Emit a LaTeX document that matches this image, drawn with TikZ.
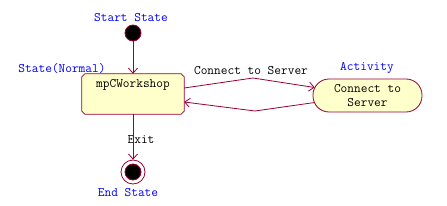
\documentclass[tikz,border=0pt]{standalone}
\usetikzlibrary{arrows.meta}
\definecolor{umlred}{RGB}{153,0,51}
\definecolor{umlfill}{RGB}{255,255,204}
\definecolor{umlblue}{RGB}{0,0,255}
\tikzset{
  every node/.style={font=\ttfamily\fontsize{13}{14}\selectfont, inner sep=0pt},
  conn/.style={draw=umlred, line width=0.8pt, -{Straight Barb[length=5pt,width=9pt,line width=0.8pt]}},
  stereo/.style={text=umlblue},
  statebox/.style={rectangle, minimum width=102pt, minimum height=40pt},
  octo/.style={draw=umlred, fill=umlfill, line width=0.8pt},
  actbox/.style={rectangle, rounded corners=16pt, draw=umlred, fill=umlfill, line width=0.8pt, minimum width=109pt, minimum height=33pt, align=center},
  dot/.style={circle, fill=black, draw=umlred, line width=0.8pt, minimum size=16pt},
  ring/.style={circle, draw=umlred, line width=0.8pt, minimum size=24pt}
}
\begin{document}
\begin{tikzpicture}[x=1pt,y=-1pt]
\useasboundingbox (0,0) rectangle (447,206);
\node[stereo] (startlbl) at (131,18) {Start State};
\node[dot] (start) at (133,33) {};
\node[statebox] (box) at (133,94) {};
\path[octo] ([xshift=3pt]box.north west) -- ([xshift=-3pt]box.north east) -- ([yshift=-3pt]box.north east)
  -- ([yshift=3pt]box.south east) -- ([xshift=-3pt]box.south east) -- ([xshift=3pt]box.south west)
  -- ([yshift=3pt]box.south west) -- ([yshift=-3pt]box.north west) -- cycle;
\node[anchor=north] (boxtxt) at (133,79) {mpCWorkshop};
\node[stereo] (statelbl) at (62,69) {State(Normal)};
\node[actbox] (act) at (367.5,95.5) {Connect to\\[0pt]Server};
\node[stereo] (actlbl) at (367,68) {Activity};
\node[ring] (endouter) at (133,172) {};
\node[dot] (endinner) at (133,172) {};
\node[stereo] (endlbl) at (128,193) {End State};
\node (toplbl) at (251,71) {Connect to Server};
\node (exitlbl) at (141,140) {Exit};
\coordinate (c1) at (253,78);
\coordinate (c2) at (255,111);
\draw[conn] (start) -- (box.north);
\draw[conn] ([yshift=6pt]box.east) -- (c1) -- ([shift={(2pt,8pt)}]act.west);
\draw[conn] ([shift={(2pt,-7pt)}]act.west) -- (c2) -- ([yshift=-8pt]box.east);
\draw[conn] (box.south) -- (endouter.north);
\end{tikzpicture}
\end{document}
